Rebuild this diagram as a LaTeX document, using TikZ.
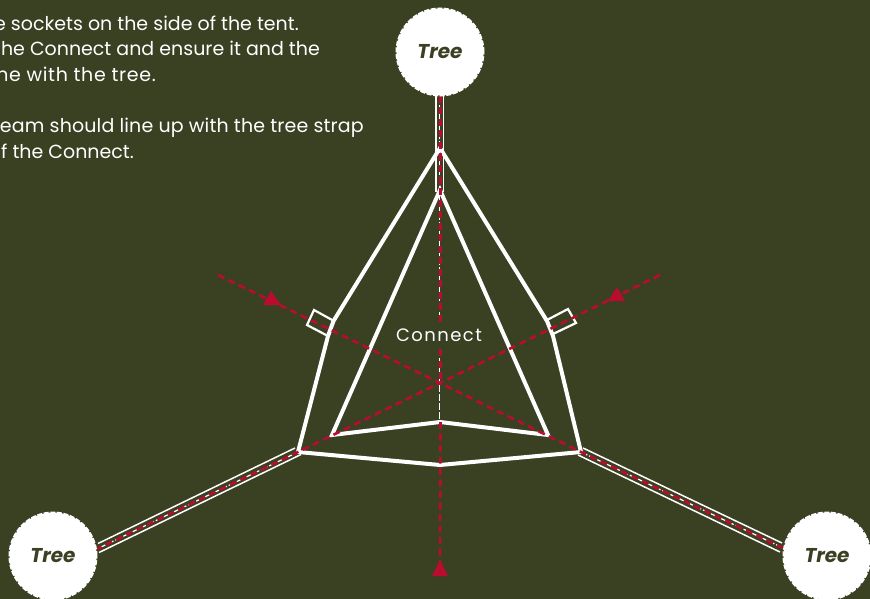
\documentclass[tikz,border=0pt]{standalone}
\usepackage{fontspec}
\setmainfont{Poppins}
\definecolor{bgol}{HTML}{3A4022}
\definecolor{redm}{HTML}{BA0C2F}
\tikzset{
  x=1pt,y=-1pt,
  treenode/.style={circle,fill=white,draw=white,line width=2pt,dash pattern=on 5pt off 1.6pt,minimum size=87pt,inner sep=0pt,text=bgol,font=\fontsize{20}{22}\selectfont\bfseries\itshape},
  outline/.style={draw=white,line width=4pt,line join=miter},
  strap/.style={draw=white,line width=1.5pt},
  redline/.style={draw=redm,line width=2.6pt,dash pattern=on 7pt off 4.5pt},
  centreline/.style={draw=white,line width=1.2pt,dash pattern=on 7pt off 2pt},
  tabbox/.style={draw=white,line width=2.2pt},
  redtip/.style={fill=redm,draw=none},
  bodytext/.style={text=white,inner sep=0pt,font=\fontsize{19}{22}\selectfont},
  connectlabel/.style={text=white,inner sep=0pt,font=\fontsize{18}{20}\selectfont\addfontfeature{LetterSpace=8}}
}
\begin{document}
\begin{tikzpicture}
\useasboundingbox (0,0) rectangle (870,599);
\clip (0,0) rectangle (870,599);
\fill[bgol] (0,0) rectangle (870,599);
% body text
\node[bodytext,anchor=base east] (t1) at (299,31) {e sockets on the side of the tent.};
\node[bodytext,anchor=base east] (t2) at (320,56) {he Connect and ensure it and the};
\node[bodytext,anchor=base east] (t3) at (156,82) {\addfontfeature{LetterSpace=3.5}ne with the tree.};
\node[bodytext,anchor=base east] (t4) at (364,132) {\addfontfeature{LetterSpace=0.8}eam should line up with the tree strap};
\node[bodytext,anchor=base east] (t5) at (134,158) {f the Connect.};
% anchor points
\coordinate (top) at (440,148);
\coordinate (innertop) at (440,190);
\coordinate (hub) at (440,383);
\coordinate (lc) at (298,452);
\coordinate (rc) at (581,452);
\coordinate (bm) at (440,465);
\coordinate (im) at (440,422);
\coordinate (il) at (332,435);
\coordinate (ir) at (548,435);
\coordinate (tipb) at (440,562);
\coordinate (lstart) at (218,275);
\coordinate (rstart) at (660,275);
\coordinate (ltree) at (97,549);
\coordinate (rtree) at (783,548);
% straps
\draw[strap] (436,96) -- (436,192);
\draw[strap] (443.5,96) -- (443.5,192);
\draw[strap] (98,543.5) -- (295,448);
\draw[strap] (99,552.5) -- (301,454.5);
\draw[strap] (583,448) -- (782,543);
\draw[strap] (578,455) -- (780,552);
\draw[centreline] (99,548) -- (lc);
\draw[centreline] (rc) -- (781,547);
\draw[centreline] (439.5,96) -- (439.5,322);
\draw[centreline] (439.5,349) -- (439.5,422);
% tent outlines
\draw[outline] (top) -- (333.5,321) -- (328,336) -- (lc) -- (bm) -- (rc) -- (553,336) -- (547,321) -- cycle;
\draw[outline] (innertop) -- (il) -- (im) -- (ir) -- cycle;
% boxes
\draw[tabbox] (334,321) -- (314,310) -- (307,325) -- (328,336);
\draw[tabbox] (547,320) -- (568,309) -- (576,323) -- (553,334);
% red lines
\draw[redline] (440.5,96) -- (440.5,322);
\draw[redline] (440.5,349) -- (440.5,383);
\draw[redline] (440.5,422) -- (tipb);
\draw[redline] (lstart) -- (hub) -- (rc) -- (rtree);
\draw[redline] (rstart) -- (hub) -- (lc) -- (ltree);
% arrow tips
\fill[redtip] (271,291) -- (281,305) -- (263,305) -- cycle;
\fill[redtip] (617,287) -- (625,301) -- (608,301) -- cycle;
\fill[redtip] (440,560) -- (448,576) -- (432,576) -- cycle;
% labels
\node[connectlabel] (cl) at (439,335) {Connect};
\node[treenode] (tt) at (440,52) {Tree};
\node[treenode] (tl) at (53,556) {Tree};
\node[treenode] (tr) at (827,556) {Tree};
\end{tikzpicture}
\end{document}
